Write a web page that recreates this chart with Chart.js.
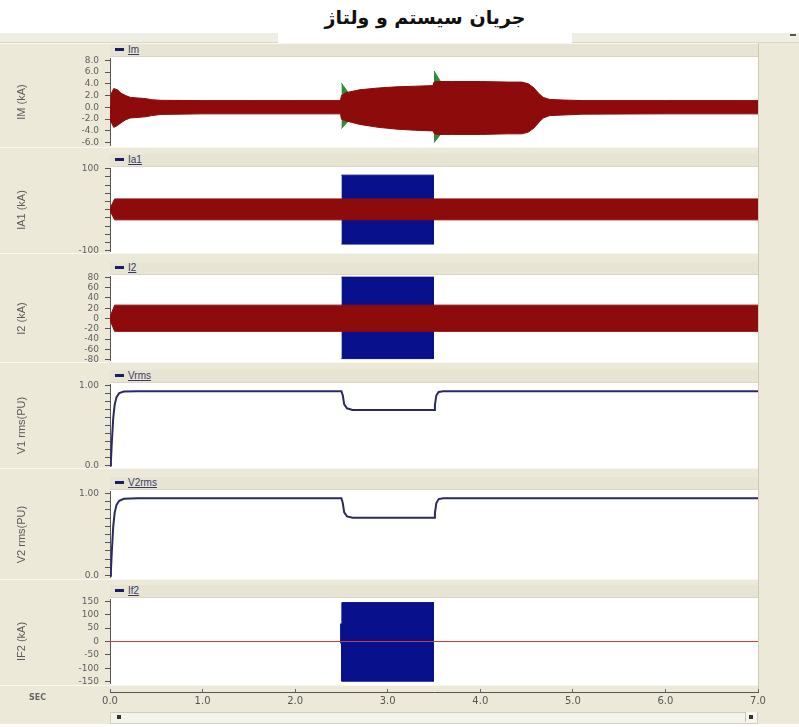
<!DOCTYPE html>
<html><head><meta charset="utf-8">
<script src="https://cdn.jsdelivr.net/npm/chart.js@4.4.1/dist/chart.umd.min.js"></script>
<style>
html,body{margin:0;padding:0;}
body{width:799px;height:727px;position:relative;overflow:hidden;background:#ECE9D8;font-family:"Liberation Sans",Arial,sans-serif;}
.abs{position:absolute;}
canvas{position:absolute;}
.leg{position:absolute;font-size:10px;color:#3a3a66;line-height:12px;white-space:nowrap;}
.leg .dash{display:inline-block;width:9px;height:3px;background:#1b1b66;vertical-align:middle;margin-right:4px;position:relative;top:-1px;}
.leg span.t{text-decoration:underline;}
</style></head>
<body>
<script>
// ================= DATA =================
const xTicks = [0, 1, 2, 3, 4, 5, 6, 7];

// Panel 1 : Im (kA)
const imTicks = [8, 6, 4, 2, 0, -2, -4, -6];
const imT  = [0, 0.01, 0.04, 0.08, 0.12, 0.17, 0.22, 0.3, 0.38, 0.45, 0.55, 1.0, 1.5, 2.0, 2.49, 2.5, 2.55, 2.7, 2.9, 3.1, 3.3, 3.49, 3.5, 3.53, 3.7, 4.0, 4.3, 4.45, 4.52, 4.58, 4.63, 4.68, 4.75, 4.9, 5.1, 6.0, 7.0];
const imUp = [0.3, 2.2, 3.2, 3.0, 2.4, 2.0, 1.7, 1.6, 1.5, 1.3, 1.2, 1.15, 1.15, 1.15, 1.15, 2.0, 2.5, 3.0, 3.3, 3.5, 3.6, 3.7, 4.3, 4.4, 4.4, 4.4, 4.3, 4.3, 4.0, 3.3, 2.4, 1.7, 1.35, 1.25, 1.15, 1.15, 1.15];
const imLo = [-0.3, -2.4, -3.4, -3.1, -2.6, -2.1, -1.8, -1.7, -1.6, -1.4, -1.2, -1.1, -1.1, -1.1, -1.1, -2.0, -2.3, -2.9, -3.4, -3.7, -3.9, -4.0, -4.4, -4.6, -4.6, -4.6, -4.5, -4.5, -4.2, -3.5, -2.6, -1.8, -1.4, -1.3, -1.15, -1.1, -1.1];
const imSpike1T  = [2.5, 2.57];
const imSpike1Up = [4.1, 2.6];
const imSpike1Lo = [-3.6, -2.4];
const imSpike2T  = [3.5, 3.57];
const imSpike2Up = [6.2, 4.4];
const imSpike2Lo = [-6.0, -4.6];

// Panel 2 : Ia1 (kA)
const ia1Ticks = [100, 80, 60, 40, 20, 0, -20, -40, -60, -80, -100];
const ia1RedT  = [0, 0.05, 7];
const ia1RedUp = [3, 26, 26];
const ia1RedLo = [-3, -25, -25];
const ia1BlueT  = [2.5, 3.5];
const ia1BlueUp = [84, 84];
const ia1BlueLo = [-84, -84];

// Panel 3 : I2 (kA)
const i2Ticks = [80, 60, 40, 20, 0, -20, -40, -60, -80];
const i2RedT  = [0, 0.05, 7];
const i2RedUp = [3, 26, 26];
const i2RedLo = [-3, -25, -25];
const i2BlueT  = [2.5, 3.5];
const i2BlueUp = [81, 81];
const i2BlueLo = [-78, -78];

// Panel 4 : V1 rms (PU)
const vTicks = [1.0, 0.9, 0.8, 0.7, 0.6, 0.5, 0.4, 0.3, 0.2, 0.1, 0.0];
const vrmsT = [0, 0.01, 0.02, 0.035, 0.05, 0.07, 0.1, 0.15, 0.3, 2.5, 2.515, 2.53, 2.56, 2.62, 3.0, 3.5, 3.51, 3.525, 3.55, 3.6, 7.0];
const vrms  = [0, 0.05, 0.3, 0.6, 0.76, 0.86, 0.91, 0.93, 0.935, 0.935, 0.88, 0.77, 0.72, 0.70, 0.70, 0.70, 0.76, 0.88, 0.925, 0.935, 0.935];

// Panel 5 : V2 rms (PU)
const v2rmsT = [0, 0.01, 0.02, 0.035, 0.05, 0.07, 0.1, 0.15, 0.3, 2.5, 2.515, 2.53, 2.56, 2.62, 3.0, 3.5, 3.51, 3.525, 3.55, 3.6, 7.0];
const v2rms  = [0, 0.05, 0.3, 0.6, 0.76, 0.86, 0.91, 0.935, 0.94, 0.94, 0.88, 0.77, 0.72, 0.705, 0.705, 0.705, 0.76, 0.88, 0.93, 0.94, 0.94];

// Panel 6 : If2 (kA)
const if2Ticks = [150, 100, 50, 0, -50, -100, -150];
const if2BlueT  = [2.485, 2.5, 2.505, 3.5];
const if2BlueUp = [65, 65, 145, 145];
const if2BlueLo = [-5, -5, -148, -148];
const if2RedT = [0, 7];
const if2Red  = [0, 0];

// ================= STYLE / LAYOUT =================
const RED = '#8E0B0B', BLUE = '#08108C', GREEN = '#2E8B3E', RMS = '#2A2A66', THINRED = '#D03A3A';
const PLOT_L = 110, PLOT_R = 758;
const TICK_FONT = {size: 9, family: 'DejaVu Sans'};

function el(tag, css, html) {
  const d = document.createElement(tag);
  d.className = 'abs';
  Object.assign(d.style, css);
  if (html !== undefined) d.innerHTML = html;
  document.body.appendChild(d);
  return d;
}
function pts(t, v) { return t.map((x, i) => ({x: x, y: v[i]})); }
function band(t, up, lo, color, order) {
  return [
    {data: pts(t, lo), borderColor: color, backgroundColor: color, borderWidth: 1, pointRadius: 0, fill: false, order: order, tension: 0},
    {data: pts(t, up), borderColor: color, backgroundColor: color, borderWidth: 1, pointRadius: 0, fill: '-1', order: order, tension: 0}
  ];
}
function line(t, v, color, w, order) {
  return {data: pts(t, v), borderColor: color, borderWidth: w, pointRadius: 0, fill: false, order: order, tension: 0};
}

// top white area, strips
el('div', {left: '0px', top: '0px', width: '799px', height: '33px', background: '#fff'});
el('div', {left: '0px', top: '33px', width: '799px', height: '9px', background: '#EFEEE4', borderBottom: '1px solid #D9D5C2'});
el('div', {left: '278px', top: '0px', width: '294px', height: '48px', background: '#fff'});
el('div', {left: '278px', top: '6px', width: '294px', textAlign: 'center', font: 'bold 19px "DejaVu Sans"', color: '#111', direction: 'rtl'}, 'جریان سیستم و ولتاژ');
el('div', {left: '790px', top: '34px', width: '6px', height: '2px', background: '#555'});
// right divider
el('div', {left: PLOT_R + 'px', top: '43px', width: '1px', height: '646px', background: '#CFCAB4'});

const panels = [
  {top: 57, h: 90, title: 'IM (kA)', legend: 'Im', min: -6.5, max: 8.33, ticks: imTicks,
   fmt: v => v.toFixed(1),
   datasets: [].concat(
     band(imSpike1T, imSpike1Up, imSpike1Lo, GREEN, 2),
     band(imSpike2T, imSpike2Up, imSpike2Lo, GREEN, 2),
     band(imT, imUp, imLo, RED, 1))},
  {top: 167, h: 86, title: 'IA1 (kA)', legend: 'Ia1', min: -102.4, max: 100.5, ticks: ia1Ticks,
   fmt: v => (v === 100 ? '100' : (v === -100 ? '-100' : '')),
   datasets: [].concat(band(ia1BlueT, ia1BlueUp, ia1BlueLo, BLUE, 2), band(ia1RedT, ia1RedUp, ia1RedLo, RED, 1))},
  {top: 275, h: 87, title: 'I2 (kA)', legend: 'I2', min: -81.9, max: 81.9, ticks: i2Ticks,
   fmt: v => String(v),
   datasets: [].concat(band(i2BlueT, i2BlueUp, i2BlueLo, BLUE, 2), band(i2RedT, i2RedUp, i2RedLo, RED, 1))},
  {top: 383, h: 85, title: 'V1 rms(PU)', legend: 'Vrms', min: -0.012, max: 1.02, ticks: vTicks,
   fmt: v => (Math.abs(v - 1) < 1e-9 ? '1.00' : (Math.abs(v) < 1e-9 ? '0.0' : '')),
   datasets: [line(vrmsT, vrms, RMS, 2, 1)]},
  {top: 490, h: 89, title: 'V2 rms(PU)', legend: 'V2rms', min: -0.024, max: 1.024, ticks: vTicks,
   fmt: v => (Math.abs(v - 1) < 1e-9 ? '1.00' : (Math.abs(v) < 1e-9 ? '0.0' : '')),
   datasets: [line(v2rmsT, v2rms, RMS, 2, 1)]},
  {top: 598, h: 87, title: 'IF2 (kA)', legend: 'If2', min: -157, max: 157, ticks: if2Ticks,
   fmt: v => String(v),
   datasets: [].concat(band(if2BlueT, if2BlueUp, if2BlueLo, BLUE, 2), [line(if2RedT, if2Red, THINRED, 1, 1)])}
];

panels.forEach((p, idx) => {
  const hdrTop = idx === 0 ? 43 : panels[idx - 1].top + panels[idx - 1].h;
  el('div', {left: '0px', top: hdrTop + 'px', width: PLOT_R + 'px', height: '1px', background: '#F8F7F0'});
  el('div', {left: PLOT_L + 'px', top: (p.top - 13) + 'px', width: (PLOT_R - PLOT_L) + 'px', height: '12px', background: '#E7E4D3', borderBottom: '1px solid #DAD6C3'});
  el('div', {left: PLOT_L + 'px', top: p.top + 'px', width: (PLOT_R - PLOT_L) + 'px', height: p.h + 'px', background: '#fff'});
  const lg = el('div', {top: (p.top - 13) + 'px', left: '115px'}, '<span class="dash"></span><span class="t">' + p.legend + '</span>');
  lg.className = 'leg';

  const c = document.createElement('canvas');
  c.width = 770; c.height = p.h + 20;
  c.style.left = '0px'; c.style.top = (p.top - 10) + 'px';
  document.body.appendChild(c);
  new Chart(c, {
    type: 'line',
    data: {datasets: p.datasets},
    options: {
      responsive: false, animation: false, events: [],
      layout: {padding: {top: 10, bottom: 10, left: 0, right: 12}},
      plugins: {legend: {display: false}, tooltip: {enabled: false}},
      scales: {
        x: {type: 'linear', min: 0, max: 7, display: false},
        y: {
          type: 'linear', min: p.min, max: p.max,
          afterBuildTicks: s => { s.ticks = p.ticks.map(v => ({value: v})); },
          afterFit: s => { s.width = PLOT_L; },
          ticks: {callback: p.fmt, autoSkip: false, font: TICK_FONT, color: '#5e5e5e', padding: 6},
          grid: {drawOnChartArea: false, drawTicks: true, tickLength: 5, color: '#555', lineWidth: 1},
          border: {display: true, color: '#555', width: 1},
          title: {display: true, text: p.title, font: {size: 11, family: 'Liberation Sans'}, color: '#5a5a5a', padding: {top: 15, bottom: 0}}
        }
      }
    }
  });
});

// x axis chart
el('div', {left: '0px', top: '685px', width: PLOT_R + 'px', height: '1px', background: '#F8F7F0'});
el('div', {left: '29px', top: '693px', font: 'bold 8px "DejaVu Sans"', color: '#666'}, 'SEC');
const xc = document.createElement('canvas');
xc.width = 770; xc.height = 40;
xc.style.left = '0px'; xc.style.top = '680px';
document.body.appendChild(xc);
new Chart(xc, {
  type: 'line',
  data: {datasets: []},
  options: {
    responsive: false, animation: false, events: [],
    layout: {padding: {top: 9, bottom: 0, left: PLOT_L, right: 12}},
    plugins: {legend: {display: false}, tooltip: {enabled: false}},
    scales: {
      y: {display: false, min: 0, max: 1},
      x: {
        type: 'linear', min: 0, max: 7, position: 'bottom',
        afterBuildTicks: s => { s.ticks = xTicks.map(v => ({value: v})); },
        afterFit: s => { s.height = 28; },
        ticks: {callback: v => v.toFixed(1), autoSkip: false, maxRotation: 0, font: {size: 10, family: 'DejaVu Sans'}, color: '#555', padding: 3},
        grid: {drawOnChartArea: true, drawTicks: false, color: '#666', lineWidth: 1},
        border: {display: true, color: '#555', width: 1}
      }
    }
  }
});

// scrollbar
el('div', {left: '110px', top: '712px', width: '646px', height: '10px', background: '#F4F3EC', border: '1px solid #D3CFBB'});
el('div', {left: '117px', top: '715px', width: '4px', height: '4px', background: '#333'});
el('div', {left: '745px', top: '712px', width: '11px', height: '10px', background: '#F7F6F0', borderLeft: '1px solid #C9C5B0'});
el('div', {left: '749px', top: '715px', width: '4px', height: '4px', background: '#333'});
el('div', {left: '0px', top: '724px', width: '799px', height: '3px', background: '#fff'});
</script>
</body></html>
